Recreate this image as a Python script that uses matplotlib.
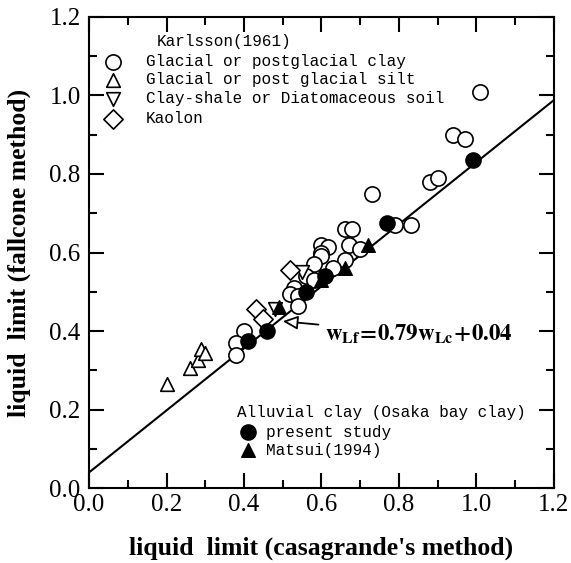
import matplotlib
matplotlib.use("Agg")
import matplotlib.pyplot as plt
from matplotlib.ticker import MultipleLocator, FormatStrFormatter
import numpy as np

plt.rcParams['mathtext.fontset'] = 'stix'

# Karlsson (1961) data
clay_x = [1.01, 0.94, 0.97, 0.88, 0.90, 0.73, 0.79, 0.83, 0.66, 0.68, 0.60, 0.617, 0.67,
          0.70, 0.60, 0.60, 0.66, 0.58, 0.63, 0.56, 0.58, 0.53, 0.52, 0.54, 0.54, 0.40, 0.38, 0.38]
clay_y = [1.01, 0.90, 0.89, 0.78, 0.79, 0.75, 0.67, 0.67, 0.66, 0.66, 0.62, 0.615, 0.62,
          0.61, 0.60, 0.59, 0.58, 0.57, 0.56, 0.54, 0.53, 0.51, 0.495, 0.49, 0.465, 0.40, 0.37, 0.34]
silt_x = [0.20, 0.26, 0.28, 0.29, 0.30]
silt_y = [0.264, 0.305, 0.325, 0.354, 0.343]
shale_x = [0.48, 0.55]
shale_y = [0.456, 0.55]
kaolin_x = [0.43, 0.45, 0.52]
kaolin_y = [0.456, 0.43, 0.555]

# Alluvial clay (Osaka bay clay)
present_x = [0.41, 0.46, 0.56, 0.61, 0.77, 0.99]
present_y = [0.375, 0.40, 0.50, 0.54, 0.675, 0.835]
matsui_x = [0.49, 0.60, 0.66, 0.72]
matsui_y = [0.46, 0.53, 0.56, 0.62]

# Regression line wLf = 0.79 wLc + 0.04
slope, intercept = 0.79, 0.04
line_x = [0.0, 1.2]

fig = plt.figure(figsize=(5.71, 5.63), dpi=100)
ax = fig.add_axes([0.156, 0.133, 0.814, 0.837])

lx = np.array(line_x)
ax.plot(lx, slope * lx + intercept, color='black', lw=1.5, zorder=1)

ms = 120
kw_open = dict(facecolors='white', edgecolors='black', linewidths=1.2, zorder=3)
ax.scatter(clay_x, clay_y, s=ms, marker='o', **kw_open)
ax.scatter(silt_x, silt_y, s=ms * 0.8, marker='^', **kw_open)
ax.scatter(shale_x, shale_y, s=ms * 0.8, marker='v', **kw_open)
ax.scatter(kaolin_x, kaolin_y, s=ms * 0.8, marker='D', **kw_open)
ax.scatter(present_x, present_y, s=ms, marker='o', color='black', zorder=4)
ax.scatter(matsui_x, matsui_y, s=ms * 0.8, marker='^', color='black', zorder=4)

ax.set_xlim(0, 1.2)
ax.set_ylim(0, 1.2)
ax.xaxis.set_major_locator(MultipleLocator(0.2))
ax.xaxis.set_minor_locator(MultipleLocator(0.1))
ax.yaxis.set_major_locator(MultipleLocator(0.2))
ax.yaxis.set_minor_locator(MultipleLocator(0.1))
ax.tick_params(which='both', direction='in', top=True, right=True, width=1.5)
ax.tick_params(which='major', length=11)
ax.tick_params(which='minor', length=6)
ax.xaxis.set_major_formatter(FormatStrFormatter('%.1f'))
ax.yaxis.set_major_formatter(FormatStrFormatter('%.1f'))
for lab in ax.get_xticklabels() + ax.get_yticklabels():
    lab.set_fontfamily('Liberation Serif')
    lab.set_fontsize(18)
ax.tick_params(axis='x', pad=4)
ax.tick_params(axis='y', pad=6)
for s in ax.spines.values():
    s.set_linewidth(1.5)

ax.set_xlabel("liquid  limit (casagrande's method)", fontfamily='Liberation Serif',
              fontweight='bold', fontsize=18.5)
ax.set_ylabel("liquid  limit (fallcone method)", fontfamily='Liberation Serif',
              fontweight='bold', fontsize=18.5)
ax.xaxis.set_label_coords(0.5, -0.103)
ax.yaxis.set_label_coords(-0.125, 0.5)

# Legend blocks (drawn as text + markers in axes coords)
mono = dict(fontfamily='Liberation Mono', fontsize=11.5, va='center', transform=ax.transAxes)
def px2ax(px, py):
    return ((px - 89) / 465.0, (488 - py) / 471.0)

ax.text(*px2ax(157, 42), "Karlsson(1961)", **mono)
rows = [(62, 'o', "Glacial or postglacial clay"),
        (80, '^', "Glacial or post glacial silt"),
        (99, 'v', "Clay-shale or Diatomaceous soil"),
        (119, 'D', "Kaolon")]
for py, mk, txt in rows:
    mx, my = px2ax(113, py)
    ax.scatter([mx], [my], s=ms * (1 if mk == 'o' else 0.8), marker=mk, facecolors='white',
               edgecolors='black', linewidths=1.2, transform=ax.transAxes, clip_on=False)
    ax.text(*px2ax(146, py), txt, **mono)

ax.text(*px2ax(237, 412), "Alluvial clay (Osaka bay clay)", **mono)
for py, mk, txt in [(432, 'o', "present study"), (450, '^', "Matsui(1994)")]:
    mx, my = px2ax(248, py)
    ax.scatter([mx], [my], s=ms * (1 if mk == 'o' else 0.8), marker=mk, color='black',
               transform=ax.transAxes)
    ax.text(*px2ax(266, py), txt, **mono)

# Equation annotation
ax.annotate(r'$\mathbf{w_{Lf}\!=\!0.79w_{Lc}\!+\!0.04}$', xy=(0.50, 0.425), xytext=(0.61, 0.392),
            fontsize=16.5, va='center', ha='left',
            arrowprops=dict(arrowstyle='-|>,head_length=0.55,head_width=0.25', fc='white',
                            ec='black', lw=1.3, shrinkA=3, shrinkB=0))

fig.savefig('out.png', dpi=100)
